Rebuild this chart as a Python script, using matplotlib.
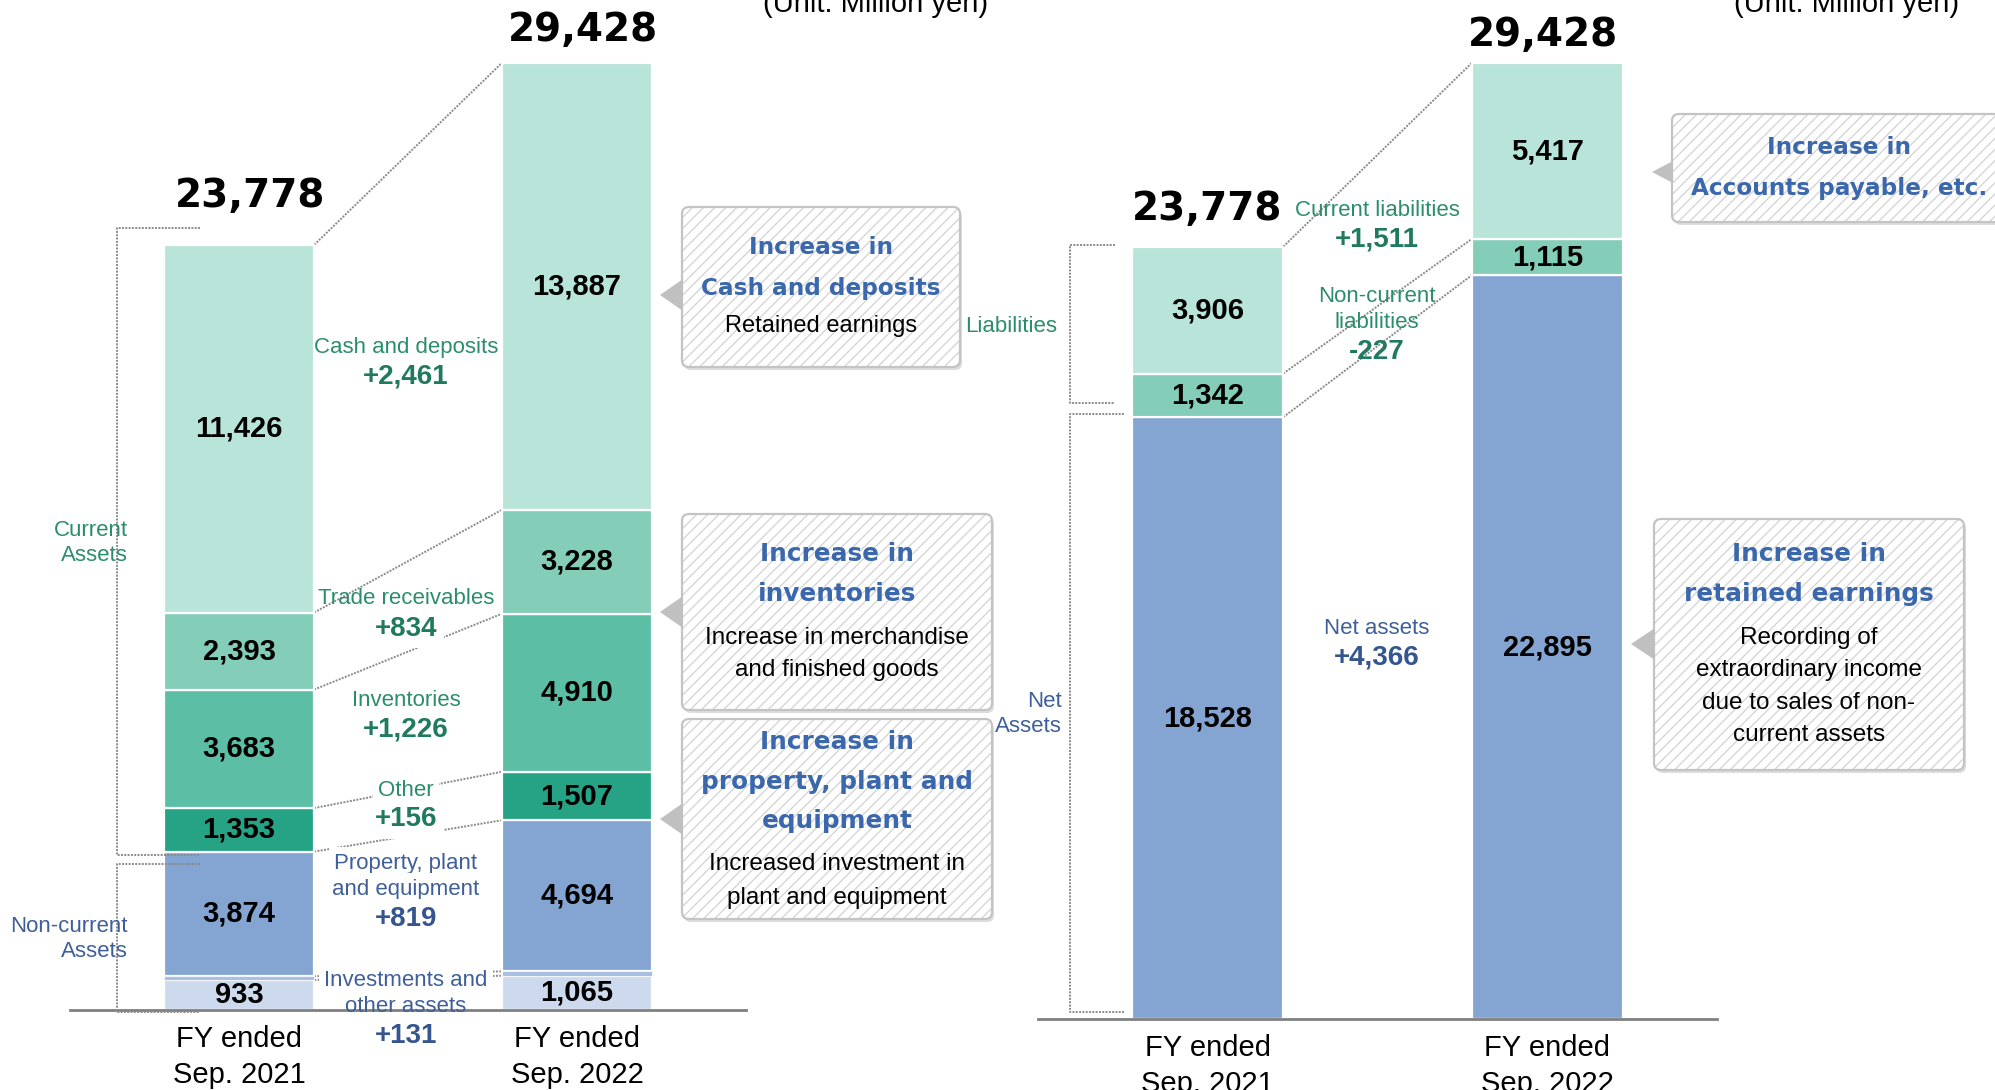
import matplotlib
matplotlib.use("Agg")
import matplotlib.pyplot as plt
from matplotlib.patches import FancyBboxPatch, Polygon
import numpy as np

W, H, DPI = 1995, 1090, 100

plt.rcParams["font.family"] = ["Liberation Sans", "DejaVu Sans"]
plt.rcParams["hatch.linewidth"] = 0.9

# ---------------- data (million yen) ----------------
years = ["FY ended\nSep. 2021", "FY ended\nSep. 2022"]
totals = [23778, 29428]

# assets, stacked bottom to top:
# investments & other, intangible, PP&E, other, inventories, trade receivables, cash
asset_2021 = [933, 116, 3874, 1353, 3683, 2393, 11426]
asset_2022 = [1065, 137, 4694, 1507, 4910, 3228, 13887]
asset_shown = [True, False, True, True, True, True, True]

# liabilities and net assets, stacked bottom to top:
# net assets, non-current liabilities, current liabilities
claim_2021 = [18528, 1342, 3906]
claim_2022 = [22895, 1115, 5417]
claim_shown = [True, True, True]

asset_change_names = ["Investments and\nother assets", "Property, plant\nand equipment",
                      "Other", "Inventories", "Trade receivables", "Cash and deposits"]
asset_change_values = ["+131", "+819", "+156", "+1,226", "+834", "+2,461"]
claim_change_names = ["Net assets", "Non-current\nliabilities", "Current liabilities"]
claim_change_values = ["+4,366", "-227", "+1,511"]

unit_text = "(Unit: Million yen)"

# ---------------- styles ----------------
MINT, SEA, JADE, TEAL = "#b9e4d9", "#84cdb8", "#5cbfa5", "#25a384"
STEEL, HAZE, MIST = "#84a5d1", "#a9c0e2", "#cdd9ec"
asset_colors = [MIST, HAZE, STEEL, TEAL, JADE, SEA, MINT]
claim_colors = [STEEL, SEA, MINT]
GREEN_TXT, GREEN_NUM = "#2b8d6d", "#1f7a5f"
BLUE_TXT, BLUE_NUM = "#3f5f99", "#34558f"
TITLE_BLUE = "#3b67ad"
DOT = "#8a8a8a"
DOTS = (0, (1.0, 0.7))
BAR_W = 0.445
YMAX = 31000
PX2PT = 72 / DPI
WIDE = ["DejaVu Sans"]

fig = plt.figure(figsize=(W / DPI, H / DPI), dpi=DPI)


def chart_axes(x0, x1, base, top_px):
    """Axes whose x range -0.5..1.5 spans pixels x0..x1 and whose zero sits at 'base'."""
    ppu = (base - top_px) / totals[1]
    h = YMAX * ppu
    ax = fig.add_axes([x0 / W, (H - base) / H, (x1 - x0) / W, h / H])
    ax.set_xlim(-0.5, 1.5)
    ax.set_ylim(0, YMAX)
    ax.patch.set_alpha(0)
    for s in ("top", "left", "right"):
        ax.spines[s].set_visible(False)
    ax.spines["bottom"].set_color("#808080")
    ax.spines["bottom"].set_linewidth(2.0)
    ax.set_yticks([])
    ax.set_xticks([0, 1], labels=years)
    ax.tick_params(axis="x", length=0, pad=11, labelsize=21)
    for lbl in ax.get_xticklabels():
        lbl.set_linespacing(1.35)
    return ax, ppu


def stacked(ax, per_year, colors, shown):
    for i, vals in enumerate(per_year):
        bottom = 0
        for v, c, s in zip(vals, colors, shown):
            ax.bar(i, v, bottom=bottom, width=BAR_W, color=c, edgecolor="white",
                   linewidth=1.6 if s else 0.5, zorder=2 if s else 2.2)
            if s:
                ax.text(i, bottom + v / 2, f"{v:,}", ha="center", va="center",
                        fontsize=21, fontweight="bold", zorder=4)
            bottom += v


def connectors(ax, left_vals, right_vals):
    for a, b in zip(np.cumsum(left_vals), np.cumsum(right_vals)):
        ax.plot([BAR_W / 2, 1 - BAR_W / 2], [a, b], color=DOT, lw=1.4, ls=DOTS,
                zorder=1, solid_capstyle="butt")


def bracket(ax, x, x_end, top, bottom):
    ax.plot([x_end, x, x, x_end], [top, top, bottom, bottom], color=DOT, lw=1.4,
            ls=DOTS, zorder=3, clip_on=False)


def totals_labels(ax, per_year, offsets_px):
    for i, (vals, (dx, dy)) in enumerate(zip(per_year, offsets_px)):
        ax.annotate(f"{totals[i]:,}", xy=(i, sum(vals)), xytext=(dx * PX2PT, dy * PX2PT),
                    textcoords="offset points", ha="center", va="center",
                    fontsize=28, fontweight="bold", family=WIDE, zorder=5)


# ---------------- assets chart ----------------
axA, ppuA = chart_axes(70, 746, 1010, 63)
stacked(axA, [asset_2021, asset_2022], asset_colors, asset_shown)
connectors(axA, asset_2021, asset_2022)
totals_labels(axA, [asset_2021, asset_2022], [(11.5, 49), (5.5, 33)])
catA = lambda px: (px - 239) / 338
nc_top = sum(asset_2021[:3])
bracket(axA, catA(117), catA(200), sum(asset_2021) + 17 / ppuA, nc_top - 3 / ppuA)
bracket(axA, catA(117), catA(200), nc_top - 12 / ppuA, -2 / ppuA)

# ---------------- liabilities / net assets chart ----------------
axB, ppuB = chart_axes(1038, 1717, 1019, 63)
stacked(axB, [claim_2021, claim_2022], claim_colors, claim_shown)
connectors(axB, claim_2021, claim_2022)
totals_labels(axB, [claim_2021, claim_2022], [(-1, 38), (-4.5, 28)])
catB = lambda px: (px - 1207.5) / 339.5
na_top = claim_2021[0]
bracket(axB, catB(1070), catB(1115), sum(claim_2021) + 2 / ppuB, na_top + 14 / ppuB)
bracket(axB, catB(1070), catB(1124), na_top + 3 / ppuB, 7 / ppuB)

# ---------------- pixel overlay for annotations ----------------
ov = fig.add_axes([0, 0, 1, 1])
ov.set_xlim(0, W)
ov.set_ylim(H, 0)
ov.axis("off")
ov.set_zorder(5)

MASK = dict(boxstyle="square,pad=0.25", fc="white", ec="none")
UNMASKED = {"Cash and deposits", "+2,461", "Trade receivables", "other assets", "+131"}


def change_label(x, y, name, value, txt_c, num_c, masked=True):
    lines = name.split("\n")
    for j, line in enumerate(lines):
        ov.text(x, y + j * 26.5, line, ha="center", va="center", fontsize=16, color=txt_c,
                bbox=MASK if (masked and line not in UNMASKED) else None)
    ov.text(x, y + (len(lines) - 1) * 26.5 + 29.5, value, ha="center", va="center",
            fontsize=20, fontweight="bold", color=num_c,
            bbox=MASK if (masked and value not in UNMASKED) else None)


asset_label_y = [980, 863, 790, 700, 599, 347]
asset_label_blue = [True, True, False, False, False, False]
for name, val, y, blue in zip(asset_change_names, asset_change_values, asset_label_y, asset_label_blue):
    change_label(406, y, name, val,
                 BLUE_TXT if blue else GREEN_TXT, BLUE_NUM if blue else GREEN_NUM, masked=True)

claim_label_y = [628, 296, 210]
claim_label_blue = [True, False, False]
for name, val, y, blue in zip(claim_change_names, claim_change_values, claim_label_y, claim_label_blue):
    change_label(1377, y, name, val,
                 BLUE_TXT if blue else GREEN_TXT, BLUE_NUM if blue else GREEN_NUM, masked=False)

# group labels beside the brackets
for x, y, txt, c in [(128, 543, "Current\nAssets", GREEN_TXT),
                     (128, 939, "Non-current\nAssets", BLUE_TXT),
                     (1057, 326, "Liabilities", GREEN_TXT),
                     (1062, 714, "Net\nAssets", BLUE_TXT)]:
    ov.text(x, y, txt, ha="right", va="center", fontsize=16, color=c, linespacing=1.25)

# unit notes
for x in (876, 1847):
    ov.text(x, 12, unit_text, ha="center", va="baseline", fontsize=21)


def callout(x0, y0, x1, y1, tip, half, lines, cx):
    w, h = x1 - x0, y1 - y0
    style = "round,pad=0,rounding_size=7"
    ov.add_patch(FancyBboxPatch((x0 + 2, y0 + 3), w, h, boxstyle=style, fc="#dcdcdc",
                                ec="none", zorder=1))
    ov.add_patch(FancyBboxPatch((x0, y0), w, h, boxstyle=style, fc="white",
                                ec="#d2d2d2", lw=0, hatch="///", zorder=2))
    ov.add_patch(FancyBboxPatch((x0, y0), w, h, boxstyle=style, fc="none",
                                ec="#c4c4c4", lw=1.6, zorder=3))
    ov.add_patch(Polygon([(tip[0], tip[1]), (x0 + 1, tip[1] - half), (x0 + 1, tip[1] + half)],
                         closed=True, fc="#c0c0c0", ec="none", zorder=3))
    for text, y, kind, size in lines:
        if kind == "title":
            ov.text(cx, y, text, ha="center", va="center", fontsize=size, fontweight="bold",
                    color=TITLE_BLUE, family=WIDE, zorder=4)
        else:
            ov.text(cx, y, text, ha="center", va="center", fontsize=size, color="black", zorder=4)


callout(682, 207, 960, 367, (660, 295), 16,
        [("Increase in", 247, "title", 16.7), ("Cash and deposits", 288, "title", 16.7),
         ("Retained earnings", 326, "body", 17)], 821)
callout(682, 514, 992, 710, (660, 612), 16,
        [("Increase in", 554, "title", 17.8), ("inventories", 594, "title", 17.8),
         ("Increase in merchandise", 638, "body", 17.5), ("and finished goods", 670, "body", 17.5)], 837)
callout(682, 719, 992, 919, (660, 819), 16,
        [("Increase in", 742, "title", 17.8), ("property, plant and", 782, "title", 17.8),
         ("equipment", 821, "title", 17.8), ("Increased investment in", 864, "body", 17.5),
         ("plant and equipment", 898, "body", 17.5)], 837)
callout(1672, 114, 2010, 222, (1652, 172), 11,
        [("Increase in", 147, "title", 16.7), ("Accounts payable, etc.", 188, "title", 16.7)], 1839)
callout(1654, 519, 1964, 770, (1631, 644), 16,
        [("Increase in", 554, "title", 17.8), ("retained earnings", 594, "title", 17.8),
         ("Recording of", 638, "body", 17.5), ("extraordinary income", 670, "body", 17.5),
         ("due to sales of non-", 703, "body", 17.5), ("current assets", 735, "body", 17.5)], 1809)

fig.savefig("out.png", dpi=DPI)
